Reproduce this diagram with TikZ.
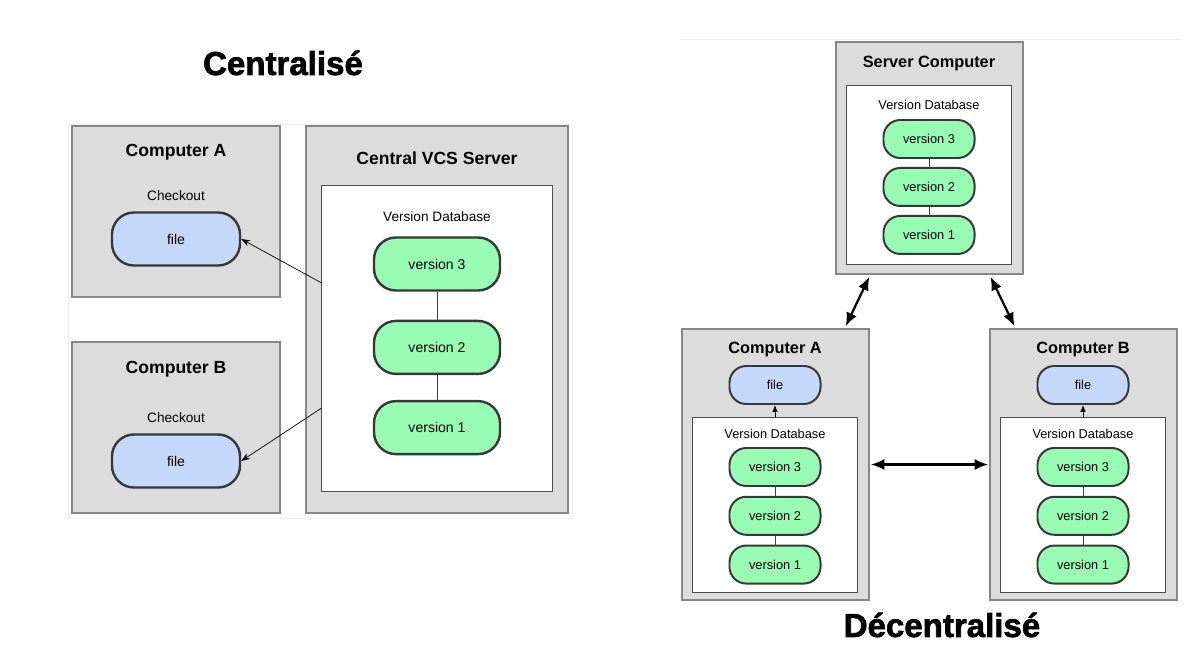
\documentclass[tikz,border=0pt]{standalone}
\usepackage{fontspec}
\setmainfont{Liberation Sans}
\newfontfamily\headfont{Liberation Sans}[BoldFeatures={FakeBold=2}]
\usepackage{tikz}
\usetikzlibrary{positioning,arrows.meta,calc}
\definecolor{BoxGray}{RGB}{220,220,220}
\definecolor{BoxLine}{RGB}{135,135,135}
\definecolor{PillLine}{RGB}{55,55,55}
\definecolor{FileBlue}{RGB}{196,216,252}
\definecolor{VerGreen}{RGB}{153,252,180}

\begin{document}
\begin{tikzpicture}[x=0.025cm, y=-0.025cm,
  machine/.style={draw=BoxLine, fill=BoxGray, line width=0.9pt, inner sep=0pt},
  dbbox/.style={draw=black!70, fill=white, line width=0.7pt, inner sep=0pt},
  pill/.style={draw=PillLine, line width=1.7pt, rounded corners=0.55cm, inner sep=0pt,
               minimum width=3.15cm, minimum height=1.325cm, font=\fontsize{10}{12}\selectfont},
  spill/.style={pill, line width=1.4pt, rounded corners=0.42cm,
               minimum width=2.275cm, minimum height=0.95cm, font=\fontsize{9.1}{11}\selectfont},
  ttl/.style={font=\fontsize{12.5}{14}\selectfont\bfseries, inner sep=0pt},
  sttl/.style={font=\fontsize{11.6}{13}\selectfont\bfseries, inner sep=0pt},
  lbl/.style={font=\fontsize{9.7}{11}\selectfont, inner sep=0pt},
  slbl/.style={font=\fontsize{9.1}{11}\selectfont, inner sep=0pt},
  heading/.style={font=\fontsize{23.5}{26}\headfont\bfseries, inner sep=0pt},
  vlink/.style={draw=black!75, line width=0.6pt},
  arr/.style={-{Stealth[length=2.2mm, width=1.6mm]}, line width=0.5pt},
  sync/.style={{Latex[length=3.4mm, width=2.8mm]}-{Latex[length=3.4mm, width=2.8mm]}, line width=1.6pt},
  pull/.style={-{Latex[length=1.7mm, width=1.4mm]}, line width=0.7pt},
]
\useasboundingbox (0,0) rectangle (1193,648);

% ---- centralised ----
\node[heading] (cTitle) at (283,63) {Centralisé};
\draw[black!7, fill=white] (68,124) rectangle (572,518);

\node[machine, minimum width=5.2cm, minimum height=4.275cm] (cA) at (176,211.5) {};
\node[machine, minimum width=5.2cm, minimum height=4.275cm] (cB) at (176,427.5) {};
\node[machine, minimum width=6.55cm, minimum height=9.675cm] (srv) at (437,319.5) {};
\node[dbbox, minimum width=5.75cm, minimum height=7.625cm] (db) at (437,338.5) {};

\node[ttl] (cAt) at (176,152) {Computer A};
\node[lbl] (cAc) at (176,196) {Checkout};
\node[pill, fill=FileBlue, minimum width=3.2cm] (fA) at (176,239) {file};
\node[ttl] (cBt) at (176,369) {Computer B};
\node[lbl] (cBc) at (176,418) {Checkout};
\node[pill, fill=FileBlue, minimum width=3.2cm] (fB) at (176,461) {file};

\node[ttl] (srvt) at (437,158) {Central VCS Server};
\node[lbl] (dbt) at (437,217) {Version Database};
\node[pill, fill=VerGreen] (v3) at (437,264) {version 3};
\node[pill, fill=VerGreen, below=0.7cm of v3] (v2) {version 2};
\node[pill, fill=VerGreen, below=0.62cm of v2] (v1) {version 1};
\draw[vlink] (v3) -- (v2);
\draw[vlink] (v2) -- (v1);

\draw[arr] ([yshift=1.39cm]db.west) -- (fA.east);
\draw[arr] ([yshift=-1.74cm]db.west) -- (fB.east);

% ---- distributed ----
\draw[black!6] (680,39) -- (1180,39);
\node[heading] (dTitle) at (942,625) {Décentralisé};

\node[machine, minimum width=4.675cm, minimum height=5.8cm] (sc) at (929.5,158) {};
\node[dbbox, minimum width=4.1cm, minimum height=4.45cm] (scdb) at (929,175) {};
\node[sttl] (sct) at (929,64) {Server Computer};
\node[slbl] (scdbt) at (929,105) {Version Database};
\node[spill, fill=VerGreen] (s3) at (929,139) {version 3};
\node[spill, fill=VerGreen, below=0.2cm of s3] (s2) {version 2};
\node[spill, fill=VerGreen, below=0.2cm of s2] (s1) {version 1};
\draw[vlink] (s3) -- (s2);
\draw[vlink] (s2) -- (s1);

\node[machine, minimum width=4.675cm, minimum height=6.775cm] (dA) at (775.5,464.5) {};
\node[dbbox, minimum width=4.1cm, minimum height=4.35cm] (dAdb) at (775,505) {};
\node[sttl] (dAt) at (775,350) {Computer A};
\node[spill, fill=FileBlue] (dAf) at (775,385) {file};
\node[slbl] (dAdbt) at (775,434) {Version Database};
\node[spill, fill=VerGreen] (a3) at (775,467) {version 3};
\node[spill, fill=VerGreen, below=0.22cm of a3] (a2) {version 2};
\node[spill, fill=VerGreen, below=0.22cm of a2] (a1) {version 1};
\draw[vlink] (a3) -- (a2);
\draw[vlink] (a2) -- (a1);
\draw[pull] (dAdb.north) -- (dAf.south);

\node[machine, minimum width=4.675cm, minimum height=6.775cm] (dB) at (1083.5,464.5) {};
\node[dbbox, minimum width=4.1cm, minimum height=4.35cm] (dBdb) at (1083,505) {};
\node[sttl] (dBt) at (1083,350) {Computer B};
\node[spill, fill=FileBlue] (dBf) at (1083,385) {file};
\node[slbl] (dBdbt) at (1083,434) {Version Database};
\node[spill, fill=VerGreen] (b3) at (1083,467) {version 3};
\node[spill, fill=VerGreen, below=0.22cm of b3] (b2) {version 2};
\node[spill, fill=VerGreen, below=0.22cm of b2] (b1) {version 1};
\draw[vlink] (b3) -- (b2);
\draw[vlink] (b2) -- (b1);
\draw[pull] (dBdb.north) -- (dBf.south);

\draw[sync] ([xshift=0.85cm, yshift=-0.05cm]sc.south west) -- ([xshift=-0.6cm, yshift=0.05cm]dA.north east);
\draw[sync] ([xshift=-0.83cm, yshift=-0.05cm]sc.south east) -- ([xshift=0.63cm, yshift=0.05cm]dB.north west);
\draw[sync] ([xshift=0.03cm]dA.east) -- ([xshift=-0.03cm]dB.west);
\end{tikzpicture}
\end{document}
